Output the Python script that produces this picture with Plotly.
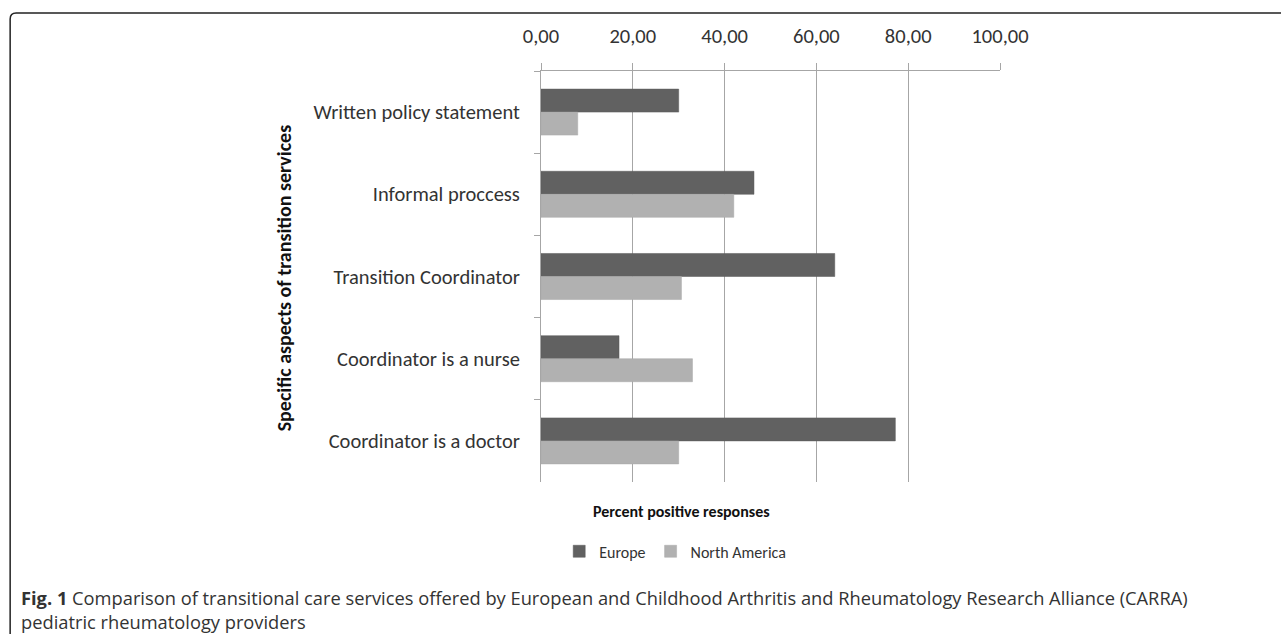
import plotly.graph_objects as go

categories = ["Written policy statement", "Informal proccess", "Transition Coordinator",
              "Coordinator is a nurse", "Coordinator is a doctor"]
europe = [30.0, 46.4, 64.0, 17.0, 77.2]
north_america = [8.0, 42.0, 30.6, 33.0, 30.0]
x_ticks = [0, 20, 40, 60, 80, 100]

W_FIG, H_FIG = 1281, 634
L, R, T, B = 540.7, 1000.0, 70.7, 482.5
PW, PH = R - L, B - T


def px(x):
    return (x - L) / PW


def py(y):
    return (B - y) / PH


FONT = "Carlito, Lato, sans-serif"

fig = go.Figure()
fig.add_trace(go.Bar(y=categories, x=europe, orientation="h", name="Europe",
                     marker=dict(color="#616161", line=dict(color="#5a5a5a", width=0.5))))
fig.add_trace(go.Bar(y=categories, x=north_america, orientation="h", name="North America",
                     marker=dict(color="#b1b1b1", line=dict(color="#a9a9a9", width=0.5))))

fig.update_layout(
    width=W_FIG, height=H_FIG,
    margin=dict(l=L, r=W_FIG - R, t=T, b=H_FIG - B, pad=0),
    paper_bgcolor="white", plot_bgcolor="white",
    barmode="group", bargap=0.44, bargroupgap=0,
    separators=",.",
    font=dict(family=FONT, color="#222222"),
    showlegend=True,
    legend=dict(orientation="h", x=px(675), xanchor="center", y=py(552), yanchor="middle",
                font=dict(family=FONT, size=16, color="#333333"), traceorder="normal",
                itemwidth=30),
)

fig.update_xaxes(
    side="top", range=[0, 100], tickvals=x_ticks, tickformat=".2f",
    showgrid=True, gridcolor="#a6a6a6", gridwidth=1,
    showline=True, linecolor="#a6a6a6", linewidth=1,
    ticks="outside", ticklen=7, tickcolor="#a6a6a6",
    tickfont=dict(family=FONT, size=20.5, color="#333333"),
    ticklabelstandoff=12,
    zeroline=False, fixedrange=True,
)
fig.update_yaxes(
    autorange="reversed", tickson="boundaries",
    showline=True, linecolor="#a6a6a6", linewidth=1,
    ticks="outside", ticklen=6, tickcolor="#a6a6a6",
    tickfont=dict(family=FONT, size=20.5, color="#333333"),
    ticklabelstandoff=16, showgrid=False, fixedrange=True,
)

# axis titles
fig.add_annotation(text="<b>Specific aspects of transition services</b>", xref="paper", yref="paper",
                   x=px(283), y=py(278), textangle=-90, showarrow=False,
                   font=dict(family=FONT, size=20, color="#111111"), xanchor="center", yanchor="middle")
fig.add_annotation(text="<b>Percent positive responses</b>", xref="paper", yref="paper",
                   x=px(681), y=py(512), showarrow=False,
                   font=dict(family=FONT, size=16, color="#111111"), xanchor="center", yanchor="middle")

# caption (two lines in one text block)
fig.add_annotation(
    text="<b>Fig. 1</b> Comparison of transitional care services offered by European and Childhood Arthritis "
         "and Rheumatology Research Alliance (CARRA)<br>pediatric rheumatology providers",
    xref="paper", yref="paper", x=px(18), y=py(610.5), xanchor="left", yanchor="middle",
    align="left", showarrow=False,
    font=dict(family="Open Sans, sans-serif", size=18.3, color="#333333"))

# rounded frame (left and top edges visible)
r = 6
path = (f"M {px(9.5)},{py(700)} L {px(9.5)},{py(12.5 + r)} "
        f"Q {px(9.5)},{py(12.5)} {px(9.5 + r)},{py(12.5)} L {px(1300)},{py(12.5)}")
fig.add_shape(type="path", xref="paper", yref="paper", path=path,
              line=dict(color="#222222", width=1.5), layer="above")

fig.write_html("out.html")
